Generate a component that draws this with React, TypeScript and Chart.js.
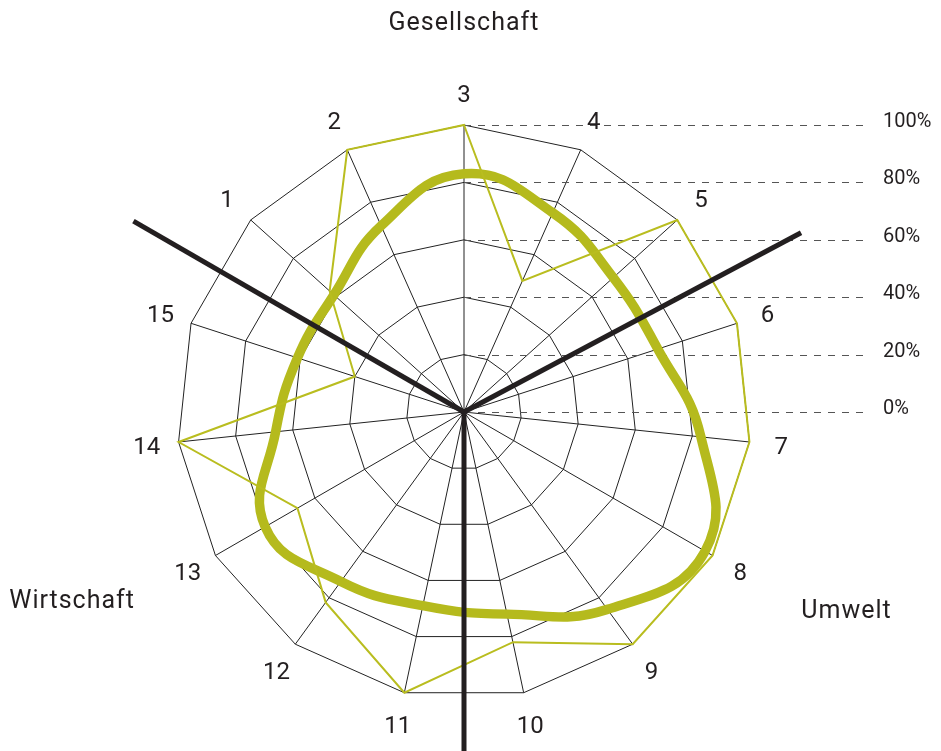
import { useEffect, useRef } from "react";
import { Chart, registerables } from "chart.js";

Chart.register(...registerables);

// Axis labels, clockwise starting at the top
const axisLabels = ["3", "4", "5", "6", "7", "8", "9", "10", "11", "12", "13", "14", "15", "1", "2"];
// Thin outline series (%)
const outlineValues = [100, 50, 100, 100, 100, 100, 100, 82, 100, 82, 67, 100, 40, 63, 100];
// Thick smoothed series (%)
const smoothValues = [83, 76, 70, 71, 83, 97, 85, 72, 69, 73, 80, 66, 61, 61, 71];
// Scale ticks
const tickValues = [0, 20, 40, 60, 80, 100];
const tickLabels = ["0%", "20%", "40%", "60%", "80%", "100%"];
// Sector names and divider angles (degrees clockwise from top)
const sectorNames = ["Gesellschaft", "Umwelt", "Wirtschaft"];
const dividerAngles = [62, 180, 300];

const FONT = "Roboto, 'Liberation Sans', sans-serif";
const INK = "#231f20";

const overlayPlugin = {
  id: "overlay",
  beforeDatasetsDraw(chart: any) {
    const s = chart.scales.r;
    const ctx = chart.ctx as CanvasRenderingContext2D;
    const R = s.drawingArea;
    ctx.save();
    // dashed tick guide lines with labels on the right
    ctx.setLineDash([7, 7]);
    ctx.strokeStyle = "#555";
    ctx.lineWidth = 1;
    ctx.fillStyle = INK;
    ctx.font = `20px ${FONT}`;
    ctx.textAlign = "left";
    ctx.textBaseline = "alphabetic";
    tickValues.forEach((v, i) => {
      const y = Math.round(s.yCenter - s.getDistanceFromCenterForValue(v)) + 0.5;
      ctx.beginPath();
      ctx.moveTo(s.xCenter, y);
      ctx.lineTo(s.xCenter + R * 1.405, y);
      ctx.stroke();
      ctx.fillText(tickLabels[i], s.xCenter + R * 1.46, y + 1);
    });
    ctx.restore();
  },
  afterDatasetsDraw(chart: any) {
    const s = chart.scales.r;
    const ctx = chart.ctx as CanvasRenderingContext2D;
    const R = s.drawingArea;
    ctx.save();
    // sector dividers
    ctx.strokeStyle = INK;
    ctx.lineWidth = 5;
    ctx.lineCap = "butt";
    dividerAngles.forEach((deg) => {
      const a = (deg * Math.PI) / 180;
      ctx.beginPath();
      ctx.moveTo(s.xCenter, s.yCenter);
      ctx.lineTo(s.xCenter + Math.sin(a) * R * 1.33, s.yCenter - Math.cos(a) * R * 1.33);
      ctx.stroke();
    });
    // axis number labels (visually centred on the position)
    ctx.fillStyle = INK;
    ctx.font = `24px ${FONT}`;
    ctx.textAlign = "center";
    ctx.textBaseline = "alphabetic";
    (chart.data.labels as string[]).forEach((lab, i) => {
      const p = s.getPointPosition(i, R + 32);
      ctx.fillText(lab, p.x, p.y + 8.5);
    });
    // sector names
    const sectorPos = [
      { deg: 0, f: 1.362 },
      { deg: 117.3, f: 1.5 },
      { deg: 244.5, f: 1.513 },
    ];
    ctx.font = `25px ${FONT}`;
    (ctx as any).letterSpacing = "1px";
    sectorNames.forEach((name, i) => {
      const a = (sectorPos[i].deg * Math.PI) / 180;
      const d = R * sectorPos[i].f;
      ctx.fillText(name, s.xCenter + Math.sin(a) * d, s.yCenter - Math.cos(a) * d + 9);
    });
    ctx.restore();
  },
};

export default function App() {
  const ref = useRef<HTMLCanvasElement | null>(null);
  useEffect(() => {
    if (!ref.current) return;
    const chart = new Chart(ref.current, {
      type: "radar",
      data: {
        labels: axisLabels,
        datasets: [
          {
            label: "Outline",
            data: outlineValues,
            borderColor: "#b9bd1f",
            borderWidth: 2,
            fill: false,
            pointRadius: 0,
            tension: 0,
            borderJoinStyle: "miter",
          },
          {
            label: "Smooth",
            data: smoothValues,
            borderColor: "#b5ba1d",
            borderWidth: 9.5,
            fill: false,
            pointRadius: 0,
            tension: 0.45,
            borderJoinStyle: "round",
          },
        ],
      },
      options: {
        animation: false,
        responsive: false,
        devicePixelRatio: 1,
        layout: { padding: { left: 177, right: 190, top: 125, bottom: 52 } },
        plugins: { legend: { display: false }, tooltip: { enabled: false } },
        scales: {
          r: {
            min: 0,
            max: 100,
            ticks: { display: false, stepSize: 20 },
            grid: { color: "#222", lineWidth: 1, circular: false },
            angleLines: { color: "#222", lineWidth: 1 },
            pointLabels: { display: false },
          },
        },
      },
      plugins: [overlayPlugin],
    });
    return () => chart.destroy();
  }, []);
  return (
    <div style={{ position: "fixed", left: 0, top: 0, width: 941, height: 751, background: "#fff" }}>
      <canvas ref={ref} width={941} height={751} />
    </div>
  );
}
